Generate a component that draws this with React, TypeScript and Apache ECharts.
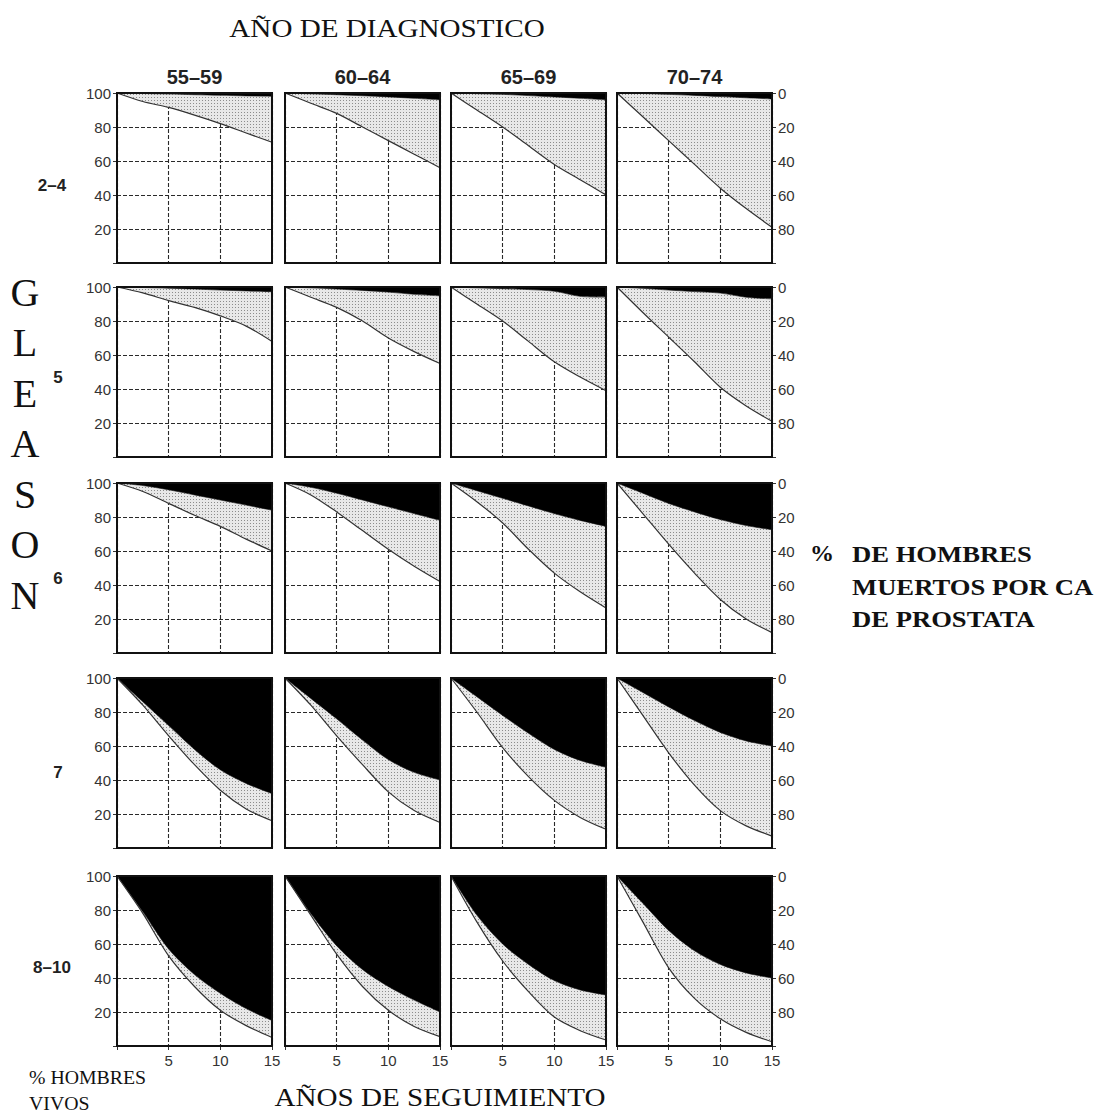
import React, { useEffect, useRef } from "react";
import * as echarts from "echarts";

// ---------- data ----------
const years = [0, 2.5, 5, 7.5, 10, 12.5, 15];
const periods = ["55–59", "60–64", "65–69", "70–74"];
const gleasonGroups = ["2–4", "5", "6", "7", "8–10"];
const xTickLabels = [5, 10, 15];
const aliveTickLabels = [20, 40, 60, 80, 100];
const deadTickLabels = [0, 20, 40, 60, 80];

// % men alive (left scale); one row per diagnosis period
const aliveG2to4 = [
  [100, 95, 91.5, 87, 82, 76.5, 71],
  [100, 94, 88, 80, 72, 64, 56],
  [100, 90, 80, 69, 58, 49, 40],
  [100, 86, 72, 58, 44, 32, 21],
];
// % men dead of prostate cancer (right scale)
const caDeadG2to4 = [
  [0, 0.3, 0.6, 1, 1.3, 1.7, 2],
  [0, 0.5, 1, 1.6, 2.3, 3.1, 4],
  [0, 0.4, 0.8, 1.5, 2.3, 3.1, 4],
  [0, 0.3, 0.8, 1.4, 2.1, 2.8, 3.5],
];

const aliveG5 = [
  [100, 96.5, 92, 88, 83, 77, 68],
  [100, 94, 88, 80, 70, 62, 55],
  [100, 90, 80, 68, 56, 47, 39],
  [100, 85, 70.5, 56, 41, 30, 21],
];
const caDeadG5 = [
  [0, 0.3, 0.7, 1.2, 1.8, 2.3, 2.8],
  [0, 0.5, 1.2, 2, 3, 4.3, 5.2],
  [0, 0.5, 1, 1.5, 2.5, 5.5, 6],
  [0, 0.8, 1.8, 2.7, 3.6, 6, 7],
];

const aliveG6 = [
  [100, 95, 88, 81, 74.5, 67, 60],
  [100, 93, 83, 72, 61, 51, 42],
  [100, 89, 76.5, 61, 47, 36, 26.5],
  [100, 82, 64, 47, 31.5, 20, 12],
];
const caDeadG6 = [
  [0, 1.5, 4, 7, 10, 13, 16],
  [0, 2.5, 6, 10, 14, 18, 22],
  [0, 4.5, 9, 13.5, 18, 22, 25.5],
  [0, 6, 12, 17, 21.5, 25, 27.5],
];

const aliveG7 = [
  [100, 84, 66, 49, 34, 23, 16],
  [100, 84, 66, 49, 33, 22, 15],
  [100, 80, 59, 42, 28, 18, 11],
  [100, 78, 56, 37, 22, 13, 7],
];
const caDeadG7 = [
  [0, 14, 28, 42, 54, 62, 68],
  [0, 12, 24, 36.5, 48, 55.5, 60],
  [0, 11, 22, 32.5, 42, 48.5, 52.5],
  [0, 8.5, 17, 25, 32, 37, 40],
];

const aliveG8to10 = [
  [100, 78, 53, 35, 21, 12, 5],
  [100, 77, 54, 35, 21, 11.5, 5.5],
  [100, 73, 50, 32, 17, 9, 3.5],
  [100, 73, 46, 28, 16, 8, 2.5],
];
const caDeadG8to10 = [
  [0, 21, 43, 58, 69, 78, 85],
  [0, 22, 41, 55, 65, 73, 80],
  [0, 23, 40, 52, 61.5, 67, 70],
  [0, 16, 32, 44, 52, 57, 60],
];

const aliveByGroup = [aliveG2to4, aliveG5, aliveG6, aliveG7, aliveG8to10];
const caDeadByGroup = [caDeadG2to4, caDeadG5, caDeadG6, caDeadG7, caDeadG8to10];

// ---------- layout ----------
const PANEL_LEFT = [117, 285, 451, 617];
const PANEL_TOP = [93, 287, 483, 678, 876];
const PANEL_W = 155;
const PANEL_H = 170;
const SANS = "'Liberation Sans', Arial, sans-serif";
const SERIF = "'Liberation Serif', 'Times New Roman', serif";

function makeStipple() {
  const cv = document.createElement("canvas");
  cv.width = 3;
  cv.height = 3;
  const ctx = cv.getContext("2d");
  if (ctx) {
    ctx.fillStyle = "#e8e8e8";
    ctx.fillRect(0, 0, 3, 3);
    ctx.fillStyle = "#8c8c8c";
    ctx.fillRect(1, 1, 1, 1);
  }
  return { image: cv, repeat: "repeat", imageWidth: 3, imageHeight: 3 };
}

function buildOption() {
  const stipple = makeStipple();
  const grid: any[] = [];
  const xAxis: any[] = [];
  const yAxis: any[] = [];
  const series: any[] = [];
  const dash = { type: [4, 2], color: "#2a2a2a", width: 1.1 };

  for (let r = 0; r < gleasonGroups.length; r++) {
    for (let c = 0; c < periods.length; c++) {
      const gi = grid.length;
      grid.push({
        left: PANEL_LEFT[c],
        top: PANEL_TOP[r],
        width: PANEL_W,
        height: PANEL_H,
        show: true,
        borderColor: "#111",
        borderWidth: 2,
        backgroundColor: "transparent",
        z: 10,
        outerBoundsMode: "none",
      });
      const bottomRow = r === gleasonGroups.length - 1;
      xAxis.push({
        gridIndex: gi,
        type: "category",
        data: years.map(String),
        boundaryGap: false,
        axisLine: { show: false },
        axisTick: { show: bottomRow, interval: 1, length: 4, lineStyle: { color: "#333" } },
        axisLabel: {
          show: bottomRow,
          interval: 0,
          margin: 7,
          fontSize: 15,
          color: "#333",
          fontFamily: SANS,
          formatter: (v: string) => (xTickLabels.includes(Number(v)) ? v : ""),
        },
        splitLine: { show: true, interval: 1, lineStyle: dash },
      });
      const leftIdx = yAxis.length;
      yAxis.push({
        gridIndex: gi,
        type: "value",
        min: 0,
        max: 100,
        interval: 20,
        axisLine: { show: false },
        axisTick: { show: c === 0, length: 4, lineStyle: { color: "#333" } },
        axisLabel: {
          show: c === 0,
          margin: 6,
          fontSize: 15,
          color: "#333",
          fontFamily: SANS,
          formatter: (v: number) => (aliveTickLabels.includes(v) ? String(v) : ""),
        },
        splitLine: { show: true, lineStyle: dash },
      });
      if (c === periods.length - 1) {
        yAxis.push({
          gridIndex: gi,
          type: "value",
          position: "right",
          inverse: true,
          min: 0,
          max: 100,
          interval: 20,
          axisLine: { show: false },
          axisTick: { show: true, length: 4, lineStyle: { color: "#333" } },
          axisLabel: {
            margin: 6,
            fontSize: 15,
            color: "#333",
            fontFamily: SANS,
            formatter: (v: number) => (deadTickLabels.includes(v) ? String(v) : ""),
          },
          splitLine: { show: false },
        });
      }
      const alive = aliveByGroup[r][c];
      const dead = caDeadByGroup[r][c];
      const common = {
        type: "line",
        xAxisIndex: gi,
        yAxisIndex: leftIdx,
        stack: "panel" + gi,
        smooth: 0.3,
        symbol: "none",
        silent: true,
      };
      series.push({
        ...common,
        z: 5,
        lineStyle: { color: "#333", width: 1.2 },
        data: alive,
      });
      series.push({
        ...common,
        z: 3,
        lineStyle: { color: "#111", width: 0.6 },
        areaStyle: { color: stipple, opacity: 1 },
        data: alive.map((a, k) => 100 - dead[k] - a),
      });
      series.push({
        ...common,
        z: 3,
        lineStyle: { width: 0 },
        areaStyle: { color: "#000", opacity: 1 },
        data: dead,
      });
    }
  }

  const graphic: any[] = [];
  const txt = (text: string, x: number, y: number, style: any, scaleX = 1) =>
    graphic.push({
      type: "text",
      x,
      y,
      scaleX,
      silent: true,
      style: { text, fill: "#111", align: "center", verticalAlign: "middle", ...style },
    });

  txt("AÑO DE DIAGNOSTICO", 387, 28, { fontFamily: SERIF, fontSize: 26 }, 1.12);
  periods.forEach((p, c) =>
    txt(p, PANEL_LEFT[c] + PANEL_W / 2, 77, { fontFamily: SANS, fontSize: 20, fontWeight: "bold", fill: "#222" })
  );
  const rowLabelY = [185, 377, 578, 772, 967];
  gleasonGroups.forEach((g, r) =>
    txt(g, g.length > 1 ? 52 : 58, rowLabelY[r], { fontFamily: SANS, fontSize: 17, fontWeight: "bold", fill: "#222" })
  );
  "GLEASON".split("").forEach((ch, i) =>
    txt(ch, 25, 292 + i * 50.5, { fontFamily: SERIF, fontSize: 40 })
  );
  txt("%", 810, 553, { fontFamily: SERIF, fontSize: 24, fontWeight: "bold", align: "left" });
  txt("DE HOMBRES", 852, 553, { fontFamily: SERIF, fontSize: 24, fontWeight: "bold", align: "left" }, 1.11);
  txt("MUERTOS POR CA", 852, 586, { fontFamily: SERIF, fontSize: 24, fontWeight: "bold", align: "left" }, 1.11);
  txt("DE PROSTATA", 852, 618, { fontFamily: SERIF, fontSize: 24, fontWeight: "bold", align: "left" }, 1.11);
  txt("% HOMBRES", 29, 1078, { fontFamily: SERIF, fontSize: 18, align: "left" }, 1.1);
  txt("VIVOS", 29, 1104, { fontFamily: SERIF, fontSize: 18, align: "left" }, 1.1);
  txt("AÑOS DE SEGUIMIENTO", 440, 1097, { fontFamily: SERIF, fontSize: 26 }, 1.12);

  return {
    animation: false,
    backgroundColor: "#fff",
    grid,
    xAxis,
    yAxis,
    series,
    graphic,
  };
}

export default function App() {
  const ref = useRef<HTMLDivElement>(null);
  useEffect(() => {
    if (!ref.current) return;
    const chart = echarts.init(ref.current, undefined, { renderer: "svg" });
    chart.setOption(buildOption() as any);
    return () => chart.dispose();
  }, []);
  return (
    <div
      ref={ref}
      style={{ position: "absolute", left: 0, top: 0, width: 1117, height: 1115, background: "#fff" }}
    />
  );
}
